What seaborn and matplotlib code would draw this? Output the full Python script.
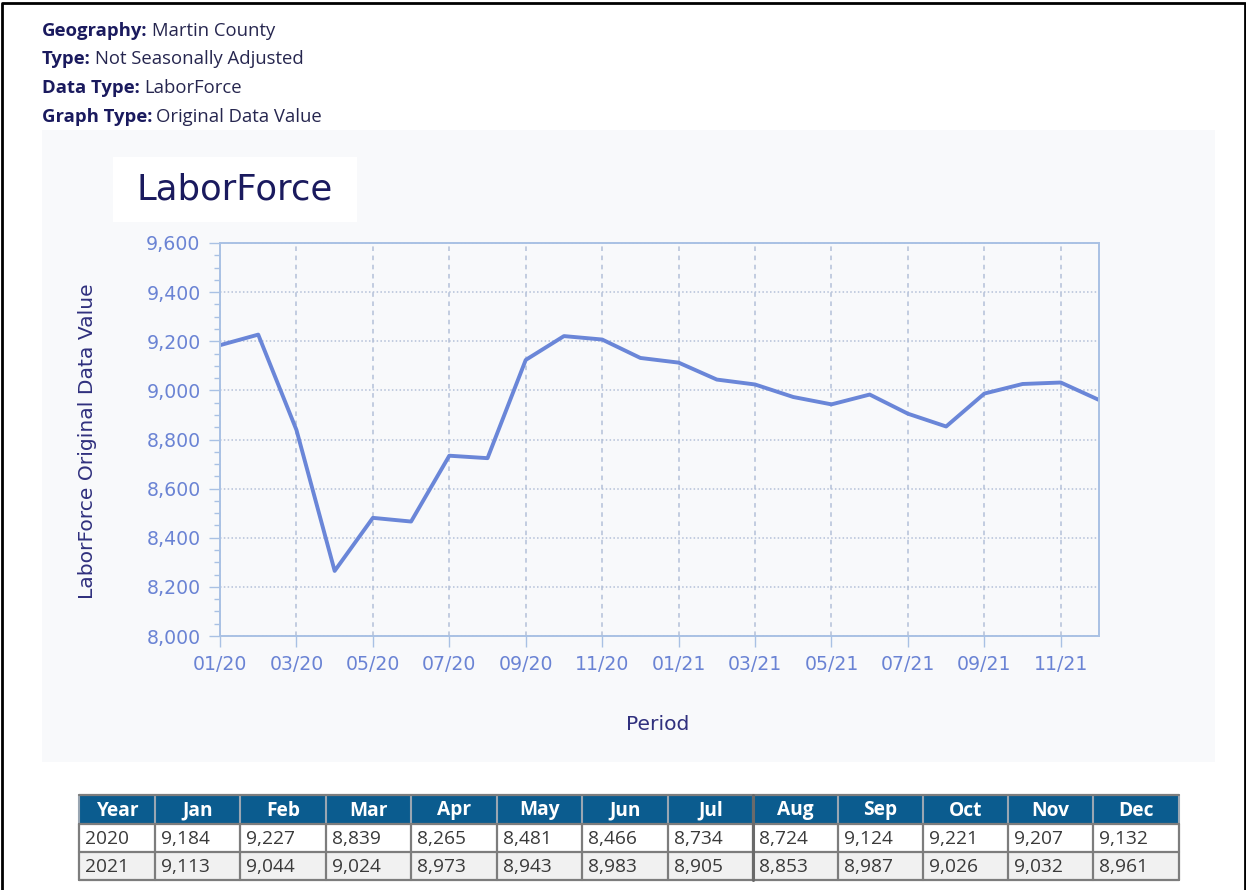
import numpy as np
import pandas as pd
import seaborn as sns
import matplotlib.pyplot as plt
from matplotlib.patches import Rectangle
from matplotlib.ticker import MultipleLocator, FuncFormatter

# data
months = ['Jan', 'Feb', 'Mar', 'Apr', 'May', 'Jun', 'Jul', 'Aug', 'Sep', 'Oct', 'Nov', 'Dec']
years = ['2020', '2021']
vals_2020 = [9184, 9227, 8839, 8265, 8481, 8466, 8734, 8724, 9124, 9221, 9207, 9132]
vals_2021 = [9113, 9044, 9024, 8973, 8943, 8983, 8905, 8853, 8987, 9026, 9032, 8961]
tick_labels = ['01/20', '03/20', '05/20', '07/20', '09/20', '11/20',
               '01/21', '03/21', '05/21', '07/21', '09/21', '11/21']

header_lines = [('Geography:', 'Martin County'),
                ('Type:', 'Not Seasonally Adjusted'),
                ('Data Type:', 'LaborForce'),
                ('Graph Type:', 'Original Data Value')]

df = pd.DataFrame({'period': np.arange(24), 'value': vals_2020 + vals_2021})

sns.set_theme(style='white')
plt.rcParams['font.family'] = ['DejaVu Sans']

W, H = 1246, 890
fig = plt.figure(figsize=(W / 100, H / 100), dpi=100)
fig.patch.set_facecolor('white')

# background layer in pixel coords
bg = fig.add_axes([0, 0, 1, 1], zorder=0)
bg.set_xlim(0, W)
bg.set_ylim(H, 0)
bg.axis('off')

navy = '#1a1a5e'
ui_font = ['Open Sans', 'DejaVu Sans']

# outer frame
bg.plot([1.5, 1.5, 1244.5, 1244.5], [890, 3, 3, 890], color='black', lw=2)

# header info
for i, (lab, val) in enumerate(header_lines):
    y = 31 + i * 28.5
    t = bg.text(42, y, lab, fontsize=13.3, fontweight='bold', color=navy,
                family=ui_font, va='center', ha='left')
    fig.canvas.draw()
    bb = t.get_window_extent()
    bg.text(bb.x1 + 4, y, val, fontsize=13.3, color='#26264f', family=ui_font,
            va='center', ha='left')

# chart panel and title box
bg.add_patch(Rectangle((42, 130), 1173, 632, facecolor='#f8f9fb', edgecolor='none'))
bg.add_patch(Rectangle((113, 157), 244, 65, facecolor='white', edgecolor='none'))
bg.text(136, 190, 'LaborForce', fontsize=25.5, color=navy, va='center', ha='left')
bg.text(88, 441, 'LaborForce Original Data Value', fontsize=14.6, color='#30307e',
        rotation=90, va='center', ha='center')
bg.text(658, 724, 'Period', fontsize=14.6, color='#30307e', va='center', ha='center')

# table
col_edges = [79, 155, 240, 326, 411, 497, 582, 668, 753, 838, 923, 1008, 1093, 1179]
row_edges = [795, 824, 852, 880]
head_blue = '#0b5c8f'
tw = col_edges[-1] - col_edges[0]
bg.add_patch(Rectangle((col_edges[0], row_edges[0]), tw, row_edges[1] - row_edges[0],
                       facecolor=head_blue, edgecolor='none'))
bg.add_patch(Rectangle((col_edges[0], row_edges[1]), tw, row_edges[2] - row_edges[1],
                       facecolor='white', edgecolor='none'))
bg.add_patch(Rectangle((col_edges[0], row_edges[2]), tw, row_edges[3] - row_edges[2],
                       facecolor='#f1f1f1', edgecolor='none'))
for x in col_edges:
    bg.plot([x, x], [row_edges[0], row_edges[1]], color='#9aa6b2', lw=1.5)
    bg.plot([x, x], [row_edges[1], row_edges[-1]], color='#7d7d7d', lw=1.6)
for y in row_edges:
    bg.plot([col_edges[0], col_edges[-1]], [y, y], color='#7d7d7d', lw=1.6)
bg.plot([753, 753], [row_edges[0], row_edges[-1]], color='#6a6a6a', lw=2.2)

headers = ['Year'] + months
for j, h in enumerate(headers):
    bg.text((col_edges[j] + col_edges[j + 1]) / 2, (row_edges[0] + row_edges[1]) / 2 + 1, h,
            color='white', fontweight='bold', fontsize=13.8, family=ui_font,
            ha='center', va='center')
for r, (yr, vals) in enumerate(zip(years, [vals_2020, vals_2021])):
    yc = (row_edges[r + 1] + row_edges[r + 2]) / 2 + 1
    cells = [yr] + [f'{v:,}' for v in vals]
    for j, c in enumerate(cells):
        bg.text(col_edges[j] + 6, yc, c, color='#3a3a3a', fontsize=13.8,
                family=ui_font, ha='left', va='center')

# main plot axes
ax = fig.add_axes([220 / W, (H - 636) / H, 879 / W, 393 / H], zorder=2)
ax.set_facecolor('none')
sns.lineplot(data=df, x='period', y='value', ax=ax, color='#6a86d8', lw=2.8)

ax.set_xlim(0, 23)
ax.set_ylim(8000, 9600)
ax.set_xticks(np.arange(0, 24, 2))
ax.set_xticklabels(tick_labels)
ax.yaxis.set_major_locator(MultipleLocator(200))
ax.yaxis.set_minor_locator(MultipleLocator(50))
ax.yaxis.set_major_formatter(FuncFormatter(lambda v, p: f'{int(v):,}'))
ax.set_xlabel('')
ax.set_ylabel('')

spine_c = '#a9c1e4'
for s in ax.spines.values():
    s.set_visible(True)
    s.set_color(spine_c)
    s.set_linewidth(1.4)

tick_c = '#6a83d4'
ax.tick_params(axis='both', which='major', direction='out', length=8, width=1,
               color=spine_c, labelcolor=tick_c, labelsize=13.6, pad=6)
ax.tick_params(axis='y', which='minor', direction='out', length=4, width=1, color=spine_c)
ax.tick_params(axis='y', which='both', left=True)
ax.tick_params(axis='x', which='major', bottom=True)

ax.grid(True, which='major', axis='y', color='#b4c0d8', lw=1.1, linestyle=(0, (1, 1.5)))
ax.grid(True, which='major', axis='x', color='#b4c0d8', lw=1.1, linestyle=(0, (3, 3)))
ax.set_axisbelow(True)

fig.savefig('out.png', dpi=100)
